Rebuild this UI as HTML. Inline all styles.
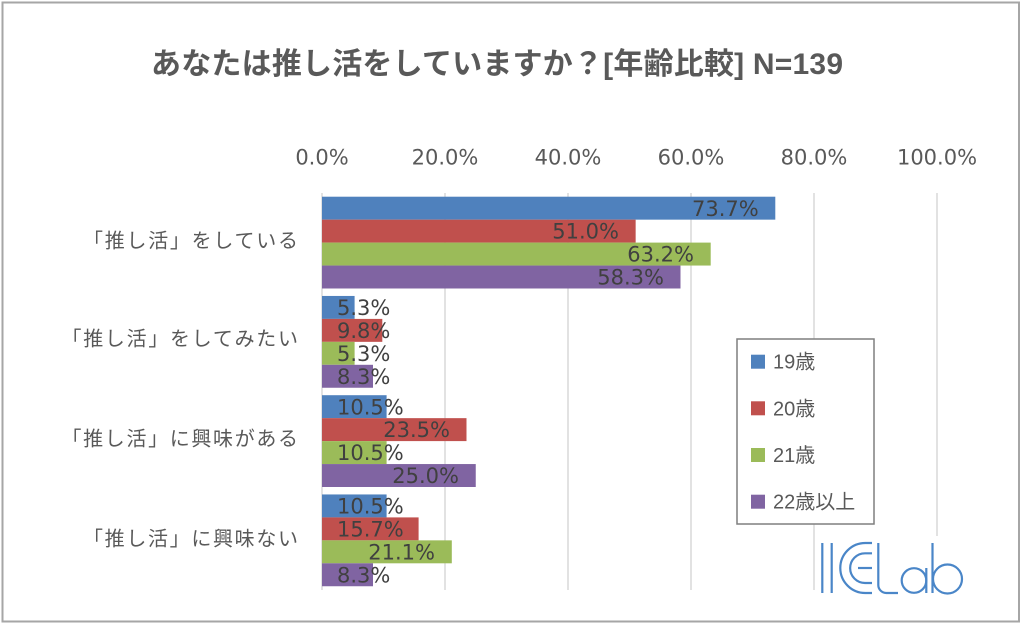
<!DOCTYPE html>
<html>
<head>
<meta charset="utf-8">
<style>
html,body{margin:0;padding:0;background:#fff;}
svg{display:block;}
</style>
</head>
<body>
<svg width="1024" height="625" viewBox="0 0 1024 625" xmlns="http://www.w3.org/2000/svg">
<rect x="0" y="0" width="1024" height="625" fill="#fff"/>
<rect x="2.5" y="2.5" width="1016.5" height="619" fill="#fff" stroke="#a6a6a6" stroke-width="2"/>

<!-- title -->
<text x="151" y="74" font-family="'Liberation Sans','Noto Sans CJK JP',sans-serif" font-weight="bold" font-size="30" fill="#595959" textLength="692" lengthAdjust="spacing">あなたは推し活をしていますか？[年齢比較] N=139</text>

<!-- gridlines -->
<g stroke="#d9d9d9" stroke-width="1.5">
<line x1="322" y1="193" x2="322" y2="590"/>
<line x1="445" y1="193" x2="445" y2="590"/>
<line x1="568" y1="193" x2="568" y2="590"/>
<line x1="691" y1="193" x2="691" y2="590"/>
<line x1="814" y1="193" x2="814" y2="590"/>
<line x1="937" y1="193" x2="937" y2="590"/>
</g>

<!-- tick labels -->
<g font-family="'DejaVu Sans',sans-serif" font-size="21" fill="#595959" text-anchor="middle">
<text x="322" y="164.5">0.0%</text>
<text x="445" y="164.5">20.0%</text>
<text x="568" y="164.5">40.0%</text>
<text x="691" y="164.5">60.0%</text>
<text x="814" y="164.5">80.0%</text>
<text x="937" y="164.5">100.0%</text>
</g>

<!-- category labels -->
<g font-family="'Liberation Sans','Noto Sans CJK JP',sans-serif" font-size="20" fill="#595959" text-anchor="end">
<text x="298" y="247.6" textLength="215" lengthAdjust="spacing">「推し活」をしている</text>
<text x="298" y="345.6" textLength="236.5" lengthAdjust="spacing">「推し活」をしてみたい</text>
<text x="298" y="445.6" textLength="236.5" lengthAdjust="spacing">「推し活」に興味がある</text>
<text x="298" y="545.6" textLength="215" lengthAdjust="spacing">「推し活」に興味ない</text>
</g>

<!-- bars -->
<g>
<rect x="322" y="196.7" width="453.3" height="22.95" fill="#4f81bd"/>
<rect x="322" y="219.65" width="313.65" height="22.95" fill="#c0504d"/>
<rect x="322" y="242.6" width="388.7" height="22.95" fill="#9bbb59"/>
<rect x="322" y="265.55" width="358.5" height="22.95" fill="#8064a2"/>

<rect x="322" y="295.95" width="32.6" height="22.95" fill="#4f81bd"/>
<rect x="322" y="318.9" width="60.3" height="22.95" fill="#c0504d"/>
<rect x="322" y="341.85" width="32.6" height="22.95" fill="#9bbb59"/>
<rect x="322" y="364.8" width="51.0" height="22.95" fill="#8064a2"/>

<rect x="322" y="395.2" width="64.6" height="22.95" fill="#4f81bd"/>
<rect x="322" y="418.15" width="144.5" height="22.95" fill="#c0504d"/>
<rect x="322" y="441.1" width="64.6" height="22.95" fill="#9bbb59"/>
<rect x="322" y="464.05" width="153.75" height="22.95" fill="#8064a2"/>

<rect x="322" y="494.45" width="64.6" height="22.95" fill="#4f81bd"/>
<rect x="322" y="517.4" width="96.6" height="22.95" fill="#c0504d"/>
<rect x="322" y="540.35" width="129.8" height="22.95" fill="#9bbb59"/>
<rect x="322" y="563.3" width="51.0" height="22.95" fill="#8064a2"/>
</g>

<!-- data labels -->
<g font-family="'DejaVu Sans',sans-serif" font-size="21" fill="#404040">
<text x="758.7" y="215.8" text-anchor="end">73.7%</text>
<text x="619" y="238.7" text-anchor="end">51.0%</text>
<text x="694" y="261.7" text-anchor="end">63.2%</text>
<text x="664" y="284.6" text-anchor="end">58.3%</text>

<text x="337" y="315">5.3%</text>
<text x="337" y="338">9.8%</text>
<text x="337" y="360.9">5.3%</text>
<text x="337" y="383.9">8.3%</text>

<text x="337" y="414.3">10.5%</text>
<text x="450" y="437.2" text-anchor="end">23.5%</text>
<text x="337" y="460.2">10.5%</text>
<text x="459" y="483.1" text-anchor="end">25.0%</text>

<text x="337" y="513.5">10.5%</text>
<text x="337" y="536.5">15.7%</text>
<text x="435" y="559.4" text-anchor="end">21.1%</text>
<text x="337" y="582.4">8.3%</text>
</g>

<!-- legend -->
<rect x="737" y="339" width="137" height="185" fill="#fff" stroke="#7f7f7f" stroke-width="1.5"/>
<rect x="751" y="354.7" width="14" height="14" fill="#4f81bd"/>
<rect x="751" y="401.3" width="14" height="14" fill="#c0504d"/>
<rect x="751" y="448" width="14" height="14" fill="#9bbb59"/>
<rect x="751" y="494.7" width="14" height="14" fill="#8064a2"/>
<g font-family="'Liberation Sans','Noto Sans CJK JP',sans-serif" font-size="20" fill="#595959">
<text x="773" y="368.7">19歳</text>
<text x="773" y="415.3">20歳</text>
<text x="773" y="462">21歳</text>
<text x="773" y="508.7">22歳以上</text>
</g>

<!-- logo -->
<rect x="816" y="536" width="160" height="64" fill="#fff"/>
<g fill="none" stroke="#4a86c8" stroke-width="2.2" stroke-linecap="butt">
<path d="M822.3 543 V593"/>
<path d="M831.7 543 V593"/>
<path d="M872 543 H865.3 A25 25 0 0 0 865.3 593 H872"/>
<path d="M872 553.3 H865 A14.85 14.85 0 0 0 865 583 H872"/>
<path d="M858 568 H872"/>
<path d="M878.3 543 V585 A8 8 0 0 0 886.3 593 H898"/>
<circle cx="914" cy="580.5" r="12.3"/>
<path d="M926.3 568 V593"/>
<path d="M932.5 543 V593"/>
<circle cx="947.5" cy="579" r="14.5"/>
</g>
</svg>
</body>
</html>
